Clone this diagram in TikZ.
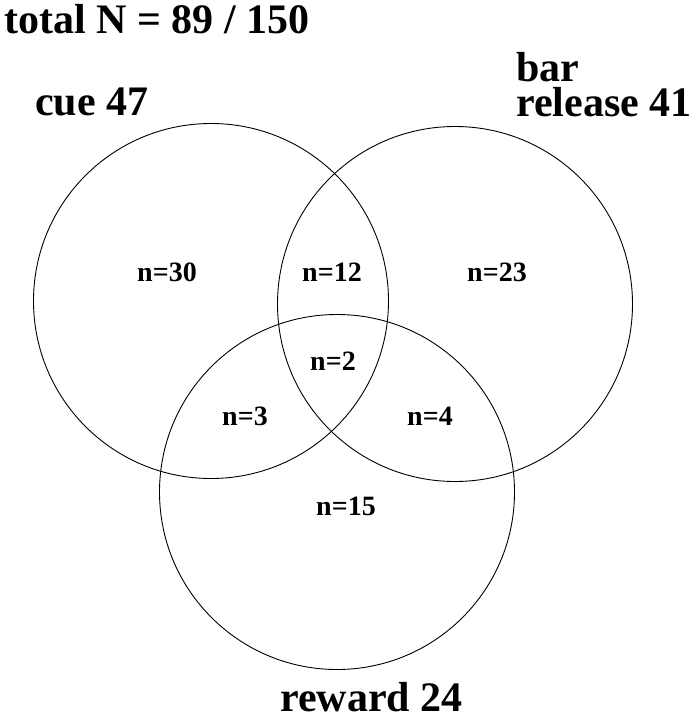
\documentclass[tikz,border=0pt]{standalone}
\usepackage{fontspec}
\setmainfont{Liberation Serif}
\begin{document}
\begin{tikzpicture}[x=1pt,y=-1pt,
  vc/.style={circle,draw,line width=0.9pt,inner sep=0pt,minimum size=355pt},
  big/.style={font=\fontsize{42}{42}\selectfont\bfseries,inner sep=0pt},
  cnt/.style={font=\fontsize{28}{28}\selectfont\bfseries,inner sep=0pt}]
\useasboundingbox (0,0) rectangle (698,720);
\node[vc] (cue) at (211,301) {};
\node[vc] (bar) at (455,304) {};
\node[vc] (rew) at (337,492) {};
\node[big,anchor=base west] (tot) at (4,33) {total N = 89 / 150};
\node[big,anchor=base west] (lcue) at (35,115) {cue 47};
\node[big,anchor=base west] (lbar) at (516,81) {bar};
\node[big,anchor=base west] (lrel) at (516,116) {release 41};
\node[big,anchor=base west] (lrew) at (280,711) {reward 24};
\node[cnt] (n30) at (167,272) {n=30};
\node[cnt] (n12) at (332,272) {n=12};
\node[cnt] (n23) at (497,272) {n=23};
\node[cnt] (n2) at (333,361) {n=2};
\node[cnt] (n3) at (245,416) {n=3};
\node[cnt] (n4) at (430,416) {n=4};
\node[cnt] (n15) at (346,506) {n=15};
\end{tikzpicture}
\end{document}
